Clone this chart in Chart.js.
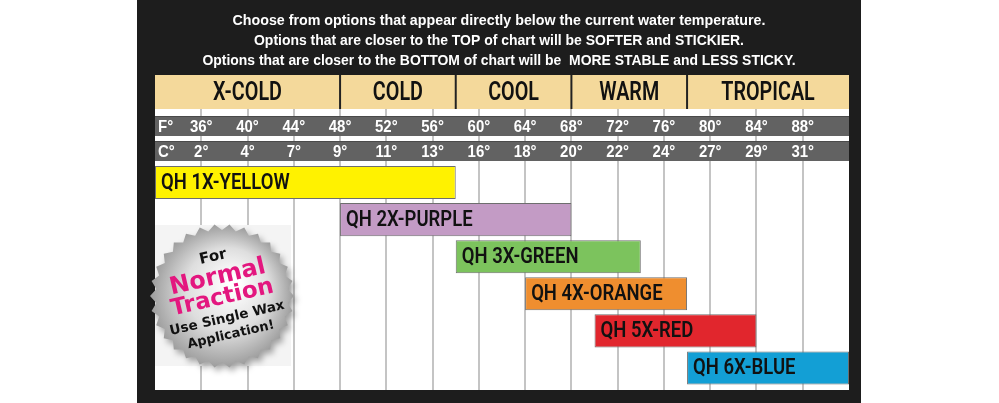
<!DOCTYPE html>
<html>
<head>
<meta charset="utf-8">
<script src="https://cdn.jsdelivr.net/npm/chart.js@4.4.1/dist/chart.umd.min.js"></script>
<style>
  html, body { margin: 0; padding: 0; background: #fff; }
  #wrap { position: relative; width: 999px; height: 403px; }
</style>
</head>
<body>
<div id="wrap"><canvas id="chart"></canvas></div>
<script>
// --- Data ---
const titleLines = [
  'Choose from options that appear directly below the current water temperature.',
  'Options that are closer to the TOP of chart will be SOFTER and STICKIER.',
  'Options that are closer to the BOTTOM of chart will be  MORE STABLE and LESS STICKY.'
];
const zoneNames = ['X-COLD', 'COLD', 'COOL', 'WARM', 'TROPICAL'];
const zoneFrom = [32, 48, 58, 68, 78];
const zoneTo = [48, 58, 68, 78, 92];

const tickF = [36, 40, 44, 48, 52, 56, 60, 64, 68, 72, 76, 80, 84, 88];
const labelsF = ['36°', '40°', '44°', '48°', '52°', '56°', '60°', '64°', '68°', '72°', '76°', '80°', '84°', '88°'];
const labelsC = ['2°', '4°', '7°', '9°', '11°', '13°', '16°', '18°', '20°', '22°', '24°', '27°', '29°', '31°'];

const waxNames = ['QH 1X-YELLOW', 'QH 2X-PURPLE', 'QH 3X-GREEN', 'QH 4X-ORANGE', 'QH 5X-RED', 'QH 6X-BLUE'];
const waxLow = [32, 48, 58, 64, 70, 78];
const waxHigh = [58, 68, 74, 78, 84, 92];
const waxColors = ['#fff200', '#c39bc5', '#7cc35d', '#ef8e2f', '#e1262d', '#139fd5'];

const badgeLines = ['For', 'Normal', 'Traction', 'Use Single Wax', 'Application!'];

// --- helpers ---
function txt(ctx, s, x, y, font, color, align, sx) {
  ctx.save();
  ctx.font = font;
  ctx.fillStyle = color;
  ctx.textBaseline = 'middle';
  ctx.textAlign = align;
  ctx.translate(x, y);
  ctx.scale(sx, 1);
  ctx.fillText(s, 0, 0);
  ctx.restore();
}

// --- background: panel, header, F/C rows, grid ---
const backdrop = {
  id: 'backdrop',
  beforeDraw(chart) {
    const { ctx, scales } = chart;
    const xs = scales.x;
    const L = xs.getPixelForValue(32), R = xs.getPixelForValue(92);
    ctx.save();
    ctx.fillStyle = '#fff';
    ctx.fillRect(0, 0, chart.width, chart.height);
    ctx.fillStyle = '#1d1d1d';
    ctx.fillRect(137, 0, 724, chart.height);

    // title
    ctx.font = 'bold 15px "Liberation Sans", Arial, sans-serif';
    ctx.fillStyle = '#fff';
    ctx.textAlign = 'center';
    ctx.textBaseline = 'alphabetic';
    const maxW = [533, 490, 593];
    titleLines.forEach((s, i) => ctx.fillText(s, 499, 25 + i * 20, maxW[i]));

    // white chart body
    ctx.fillStyle = '#fff';
    ctx.fillRect(L, 109, R - L, 281);

    // vertical grid
    ctx.strokeStyle = '#c4c4c4';
    ctx.lineWidth = 2;
    tickF.forEach(v => {
      const x = Math.round(xs.getPixelForValue(v));
      ctx.beginPath();
      ctx.moveTo(x, 109);
      ctx.lineTo(x, 390);
      ctx.stroke();
    });

    // light panel behind the badge
    ctx.fillStyle = '#f4f4f4';
    ctx.fillRect(L, 225, 136, 141);

    // header band
    ctx.fillStyle = '#f4d99b';
    ctx.fillRect(L, 75, R - L, 34);
    ctx.strokeStyle = '#222';
    ctx.lineWidth = 2;
    zoneNames.forEach((name, i) => {
      const a = xs.getPixelForValue(zoneFrom[i]);
      const b = xs.getPixelForValue(zoneTo[i]);
      if (i > 0) {
        ctx.beginPath();
        ctx.moveTo(a, 75);
        ctx.lineTo(a, 109);
        ctx.stroke();
      }
      txt(ctx, name, (a + b) / 2, 93, '600 26px Roboto, "Liberation Sans", sans-serif', '#111', 'center', 0.76);
    });

    // F / C rows
    const rows = [
      { top: 116, h: 20, head: 'F°', labels: labelsF },
      { top: 141, h: 20, head: 'C°', labels: labelsC }
    ];
    rows.forEach(r => {
      ctx.fillStyle = '#626262';
      ctx.fillRect(L, r.top, R - L, r.h);
      ctx.fillStyle = '#4a4a4a';
      ctx.fillRect(L, r.top, R - L, 1);
      const cy = r.top + r.h / 2 + 1;
      txt(ctx, r.head, L + 3, cy, 'bold 17px "Liberation Sans", Arial, sans-serif', '#fff', 'left', 0.88);
      tickF.forEach((v, i) => {
        txt(ctx, r.labels[i], xs.getPixelForValue(v), cy, 'bold 17px "Liberation Sans", Arial, sans-serif', '#fff', 'center', 0.88);
      });
    });
    ctx.restore();
  }
};

// --- bar labels + badge ---
const overlay = {
  id: 'overlay',
  afterDatasetsDraw(chart) {
    const { ctx } = chart;
    const meta = chart.getDatasetMeta(0);
    meta.data.forEach((bar, i) => {
      const x0 = Math.min(bar.base, bar.x);
      txt(ctx, waxNames[i], x0 + 6, bar.y + 1, '600 22px Roboto, "Liberation Sans", sans-serif', '#111', 'left', 0.84);
    });

    // starburst badge
    const cx = 222, cy = 296, n = 30, ro = 72, ri = 66;
    ctx.save();
    ctx.beginPath();
    for (let k = 0; k < n * 2; k++) {
      const r = k % 2 === 0 ? ro : ri;
      const a = (Math.PI * k) / n;
      const px = cx + r * Math.cos(a), py = cy + r * Math.sin(a);
      if (k === 0) ctx.moveTo(px, py); else ctx.lineTo(px, py);
    }
    ctx.closePath();
    ctx.shadowColor = 'rgba(0,0,0,0.35)';
    ctx.shadowBlur = 6;
    ctx.shadowOffsetX = 3;
    ctx.shadowOffsetY = 4;
    const g = ctx.createRadialGradient(cx + 12, cy - 14, 5, cx, cy, ro);
    g.addColorStop(0, '#ffffff');
    g.addColorStop(0.55, '#dedede');
    g.addColorStop(1, '#9c9c9c');
    ctx.fillStyle = g;
    ctx.fill();
    ctx.restore();

    ctx.save();
    ctx.translate(cx, cy);
    ctx.rotate(-13 * Math.PI / 180);
    const bf = '"DejaVu Sans", Verdana, sans-serif';
    txt(ctx, badgeLines[0], 0, -40, 'bold 15px ' + bf, '#111', 'center', 1);
    txt(ctx, badgeLines[1], 0, -19, 'bold 24px ' + bf, '#e3177f', 'center', 1);
    txt(ctx, badgeLines[2], 0, 2, 'bold 23px ' + bf, '#e3177f', 'center', 1);
    txt(ctx, badgeLines[3], 0, 23, 'bold 13.5px ' + bf, '#111', 'center', 1);
    txt(ctx, badgeLines[4], 0, 40, 'bold 13px ' + bf, '#111', 'center', 1);
    ctx.restore();
  }
};

new Chart(document.getElementById('chart').getContext('2d'), {
  type: 'bar',
  data: {
    labels: waxNames,
    datasets: [{
      data: waxLow.map((lo, i) => [lo, waxHigh[i]]),
      backgroundColor: waxColors,
      borderColor: '#6e6e6e',
      borderWidth: 1,
      borderSkipped: false,
      barPercentage: 0.89,
      categoryPercentage: 1
    }]
  },
  options: {
    indexAxis: 'y',
    responsive: true,
    maintainAspectRatio: false,
    animation: false,
    layout: { padding: { left: 155, right: 150, top: 164, bottom: 16.5 } },
    plugins: { legend: { display: false }, tooltip: { enabled: false } },
    scales: {
      x: { type: 'linear', min: 32, max: 92, display: false },
      y: { display: false }
    }
  },
  plugins: [backdrop, overlay]
});
</script>
</body>
</html>
